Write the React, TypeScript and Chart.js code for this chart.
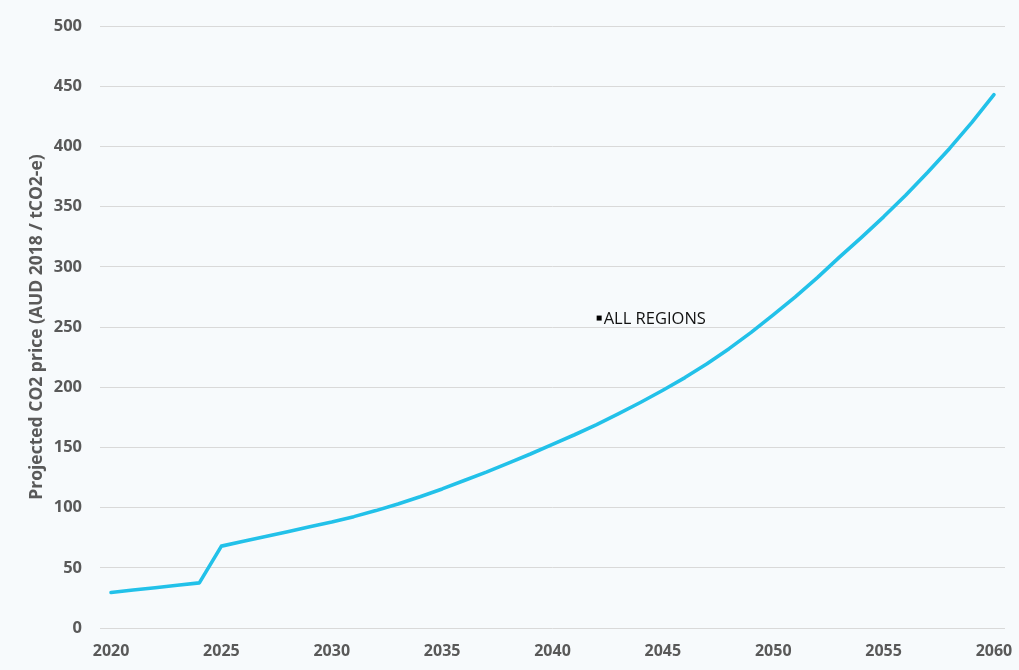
import React, { useEffect, useRef } from "react";
import { Chart, registerables } from "chart.js";

Chart.register(...registerables);

const years: string[] = [
  "2020", "2021", "2022", "2023", "2024", "2025", "2026", "2027", "2028", "2029",
  "2030", "2031", "2032", "2033", "2034", "2035", "2036", "2037", "2038", "2039",
  "2040", "2041", "2042", "2043", "2044", "2045", "2046", "2047", "2048", "2049",
  "2050", "2051", "2052", "2053", "2054", "2055", "2056", "2057", "2058", "2059",
  "2060",
];

const co2Price: number[] = [
  29.5, 31.5, 33.5, 35.5, 37.5, 68, 72, 76, 80, 84,
  88, 92.5, 97.5, 103, 109, 115.5, 122.5, 129.5, 137, 144.5,
  152.5, 160.5, 169, 178, 187.5, 197.5, 208, 219.5, 232, 245.5,
  260, 275, 291, 308, 324.5, 341.5, 359.5, 378.5, 398.5, 420,
  443,
];

const seriesLabel = "ALL REGIONS";
const yAxisTitle = "Projected CO2 price (AUD 2018 / tCO2-e)";
const yMin = 0;
const yMax = 500;
const yStep = 50;

const bgPlugin = {
  id: "bgFill",
  beforeDraw(chart: any) {
    const ctx = chart.ctx;
    ctx.save();
    ctx.fillStyle = "#f7fafc";
    ctx.fillRect(0, 0, chart.width, chart.height);
    ctx.restore();
  },
};

const innerLegend = {
  id: "innerLegend",
  afterDraw(chart: any) {
    const { ctx, chartArea } = chart;
    const label = chart.data.datasets[0].label;
    const x = chartArea.left + (chartArea.right - chartArea.left) * 0.551;
    const y = chart.scales.y.getPixelForValue(257);
    ctx.save();
    ctx.fillStyle = "#000";
    ctx.fillRect(x - 2, y - 3, 5, 5);
    ctx.font = "16.5px 'Open Sans', sans-serif";
    ctx.textBaseline = "middle";
    ctx.textAlign = "left";
    ctx.fillStyle = "#111";
    ctx.fillText(label, x + 5, y + 1);
    ctx.restore();
  },
};

export default function App() {
  const canvasRef = useRef<HTMLCanvasElement | null>(null);

  useEffect(() => {
    document.body.style.margin = "0";
    const canvas = canvasRef.current;
    if (!canvas) return;
    const chart = new Chart(canvas, {
      type: "line",
      data: {
        labels: years,
        datasets: [
          {
            label: seriesLabel,
            data: co2Price,
            borderColor: "#22c1e9",
            backgroundColor: "#22c1e9",
            borderWidth: 3.6,
            pointRadius: 0,
            tension: 0,
            borderCapStyle: "round",
            borderJoinStyle: "round",
          },
        ],
      },
      options: {
        animation: false,
        responsive: false,
        maintainAspectRatio: false,
        layout: { padding: { left: 0, right: 14, top: 26, bottom: 0 } },
        plugins: {
          legend: { display: false },
          tooltip: { enabled: false },
        },
        scales: {
          x: {
            type: "category",
            offset: true,
            grid: { display: false, drawTicks: false },
            border: { display: false },
            afterFit(scale: any) {
              scale.height = 42;
              scale.paddingLeft = 0;
              scale.paddingRight = 0;
            },
            ticks: {
              autoSkip: false,
              maxRotation: 0,
              padding: 14,
              color: "#595959",
              font: { family: "'Open Sans', sans-serif", size: 16, weight: "bold" },
              callback(this: any, value: any, index: number) {
                const lbl = years[index];
                return Number(lbl) % 5 === 0 ? lbl : "";
              },
            },
          },
          y: {
            min: yMin,
            max: yMax,
            afterFit(scale: any) {
              scale.width = 100;
              scale.paddingTop = 0;
              scale.paddingBottom = 0;
            },
            grid: { color: "#d9d9d9", lineWidth: 1, drawTicks: false },
            border: { display: false },
            ticks: {
              stepSize: yStep,
              padding: 18,
              color: "#595959",
              font: { family: "'Open Sans', sans-serif", size: 16.5, weight: "bold" },
            },
            title: {
              display: true,
              text: yAxisTitle,
              color: "#595959",
              padding: { top: 27, bottom: 0 },
              font: { family: "'Open Sans', sans-serif", size: 17.5, weight: "bold" },
            },
          },
        },
      },
      plugins: [bgPlugin, innerLegend],
    } as any);
    return () => chart.destroy();
  }, []);

  return (
    <div style={{ width: 1019, height: 670 }}>
      <canvas ref={canvasRef} width={1019} height={670} style={{ display: "block" }} />
    </div>
  );
}
